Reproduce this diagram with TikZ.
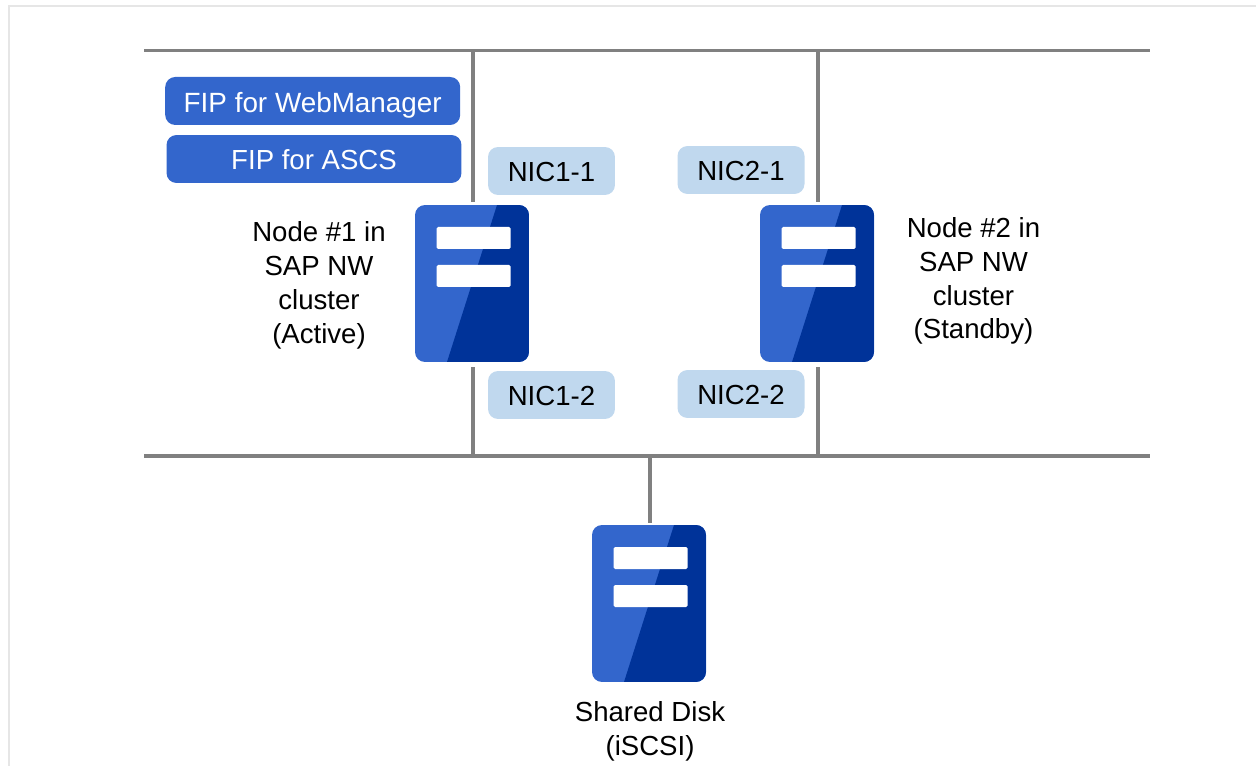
\documentclass[tikz,border=0pt]{standalone}
\usepackage{fontspec}
\setmainfont{Liberation Sans}
\definecolor{srvlight}{HTML}{3366CC}
\definecolor{srvdark}{HTML}{003399}
\definecolor{nicblue}{HTML}{C0D8EE}
\definecolor{linegray}{HTML}{808080}
\definecolor{framegray}{HTML}{E6E6E6}
\tikzset{
  txt/.style={align=center,inner sep=0pt,font=\fontsize{15.7}{19.3}\selectfont},
  boxtxt/.style={txt,text height=0.44cm,text depth=0cm},
  fip/.style={boxtxt,fill=srvlight,text=white,rounded corners=0.2cm,minimum width=5.9cm,minimum height=0.96cm},
  nic/.style={boxtxt,fill=nicblue,rounded corners=0.2cm,minimum width=2.54cm,minimum height=0.96cm},
  wire/.style={draw=linegray,line width=0.07cm},
  server/.style={fill=srvlight,rounded corners=0.2cm,minimum width=2.28cm,minimum height=3.14cm,inner sep=0pt,outer sep=0pt,
    path picture={
      \fill[srvdark,sharp corners] (25,-78.5) -- (57,-78.5) -- (57,78.5) -- (-25,78.5) -- cycle;
      \fill[white,rounded corners=0.03cm] (-35.5,-56.5) rectangle (38.5,-34.5);
      \fill[white,rounded corners=0.03cm] (-35.5,-18.5) rectangle (38.5,3.5);
    }}
}
\begin{document}
\begin{tikzpicture}[x=0.02cm,y=-0.02cm]
\useasboundingbox (0,0) rectangle (1256,766);

% Frame
\draw[framegray,line width=0.04cm] (9,766) -- (9,6) -- (1256,6);

% Servers
\node[server] (S1) at (472,283.5) {};
\node[server] (S2) at (817,283.5) {};
\node[server] (S3) at (649,603.5) {};

% Networks
\coordinate (TL) at (144,50.5);
\coordinate (TR) at (1150,50.5);
\coordinate (BL) at (144,456);
\coordinate (BR) at (1150,456);
\coordinate (T1) at (473,50.5);
\coordinate (T2) at (818,50.5);
\coordinate (B1) at (473,456);
\coordinate (B2) at (818,456);
\coordinate (B3) at (650,456);
\draw[wire] (TL) -- (TR);
\draw[wire] (BL) -- (BR);

% Links
\draw[wire,shorten >=0.06cm] (T1) -- (T1 |- S1.north);
\draw[wire,shorten >=0.06cm] (T2) -- (T2 |- S2.north);
\draw[wire,shorten >=0.1cm] (B1) -- (B1 |- S1.south);
\draw[wire,shorten >=0.1cm] (B2) -- (B2 |- S2.south);
\draw[wire,shorten >=0.04cm] (B3) -- (B3 |- S3.north);

% FIP
\node[fip,text height=0.48cm,font=\fontsize{15.85}{19.3}\selectfont] (F1) at (312.7,101) {FIP for WebManager};
\node[fip] (F2) at (314,159) {FIP for ASCS};

% NIC
\node[nic] (N11) at (551.5,171) {NIC1-1};
\node[nic] (N12) at (551.5,395) {NIC1-2};
\node[nic] (N21) at (741,170) {NIC2-1};
\node[nic] (N22) at (741,394) {NIC2-2};

% Names
\node[txt] (L1) at (319,285) {Node \#1 in\\SAP NW\\cluster\\(Active)};
\node[txt] (L2) at (973.5,281) {Node \#2 in\\SAP NW\\cluster\\(Standby)};
\node[txt] (L3) at (650,731.5) {Shared Disk\\(iSCSI)};
\end{tikzpicture}
\end{document}
